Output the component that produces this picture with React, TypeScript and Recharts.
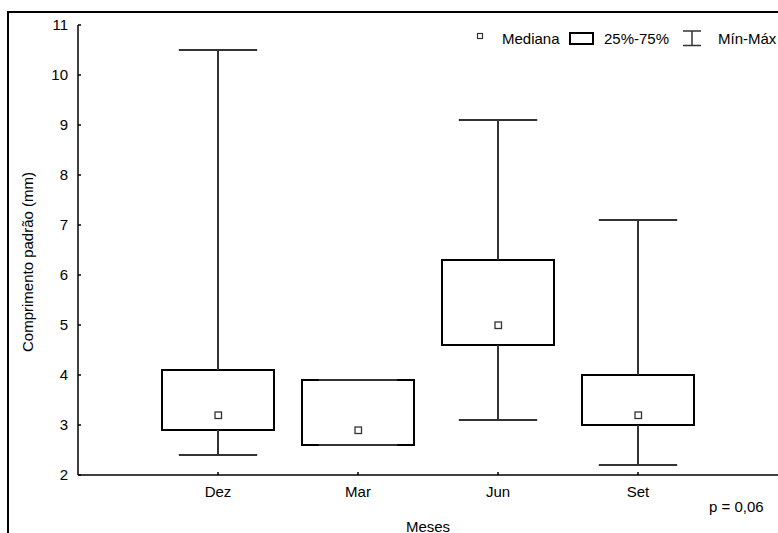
import React from 'react';
import {
  ComposedChart,
  XAxis,
  YAxis,
  Scatter,
  ReferenceArea,
  ReferenceLine,
} from 'recharts';

// Standard length by month: min, quartiles, median, max
const months = ['Dez', 'Mar', 'Jun', 'Set'];
const minValues = [2.4, 2.6, 3.1, 2.2];
const q1Values = [2.9, 2.6, 4.6, 3.0];
const medianValues = [3.2, 2.9, 5.0, 3.2];
const q3Values = [4.1, 3.9, 6.3, 4.0];
const maxValues = [10.5, 3.9, 9.1, 7.1];
const yTicks = [2, 3, 4, 5, 6, 7, 8, 9, 10, 11];

const FONT = '"Liberation Sans", Arial, Helvetica, sans-serif';
const BOX_HALF = 0.4;
const CAP_HALF = 0.28;
const WHISKER = '#333';

const medianPoints = months.map((_, i) => ({ x: i + 1, y: medianValues[i] }));

const MedianMarker = (props: any) => {
  const { cx, cy } = props;
  return <rect x={cx - 3} y={cy - 3} width={6.5} height={6.5} fill="#fff" stroke="#333" strokeWidth={1.3} />;
};

export default function App() {
  const textStyle = { fontFamily: FONT, fontSize: 15, fill: '#000' };

  return (
    // fixed so the page never scrolls
    <div
      style={{
        position: 'fixed',
        left: 0,
        top: 0,
        width: 778,
        height: 533,
        overflow: 'hidden',
        background: '#fff',
      }}
    >
      <div
        style={{
          position: 'absolute',
          left: 7,
          top: 11,
          width: 800,
          height: 560,
          borderTop: '2px solid #000',
          borderLeft: '2px solid #000',
        }}
      />
      <div style={{ position: 'absolute', left: 8, top: 8, width: 770, height: 525 }}>
        <ComposedChart width={770} height={525} margin={{ top: 17, right: 0, bottom: 0, left: 0 }}>
          <XAxis
            type="number"
            dataKey="x"
            domain={[0, 5]}
            ticks={[1, 2, 3, 4]}
            tickFormatter={(v: number) => months[v - 1] ?? ''}
            height={58}
            interval={0}
            tickSize={-3}
            tickMargin={14}
            stroke="#000"
            strokeWidth={1.5}
            tick={{ ...textStyle }}
          />
          <YAxis
            type="number"
            dataKey="y"
            domain={[2, 11]}
            ticks={yTicks}
            interval={0}
            width={70}
            tickSize={-3}
            tickMargin={13}
            stroke="#000"
            strokeWidth={1.5}
            tick={{ ...textStyle }}
          />

          {months.map((m, i) => (
            <ReferenceArea
              key={`box-${m}`}
              x1={i + 1 - BOX_HALF}
              x2={i + 1 + BOX_HALF}
              y1={q1Values[i]}
              y2={q3Values[i]}
              fill="#fff"
              fillOpacity={1}
              stroke="#000"
              strokeWidth={2}
            />
          ))}

          {months.map((m, i) => (
            <ReferenceLine
              key={`upper-${m}`}
              segment={[
                { x: i + 1, y: q3Values[i] },
                { x: i + 1, y: maxValues[i] },
              ]}
              stroke={WHISKER}
              strokeWidth={2}
            />
          ))}
          {months.map((m, i) => (
            <ReferenceLine
              key={`lower-${m}`}
              segment={[
                { x: i + 1, y: minValues[i] },
                { x: i + 1, y: q1Values[i] },
              ]}
              stroke={WHISKER}
              strokeWidth={2}
            />
          ))}
          {months.map((m, i) => (
            <ReferenceLine
              key={`maxcap-${m}`}
              segment={[
                { x: i + 1 - CAP_HALF, y: maxValues[i] },
                { x: i + 1 + CAP_HALF, y: maxValues[i] },
              ]}
              stroke={WHISKER}
              strokeWidth={2}
            />
          ))}
          {months.map((m, i) => (
            <ReferenceLine
              key={`mincap-${m}`}
              segment={[
                { x: i + 1 - CAP_HALF, y: minValues[i] },
                { x: i + 1 + CAP_HALF, y: minValues[i] },
              ]}
              stroke={WHISKER}
              strokeWidth={2}
            />
          ))}

          <Scatter data={medianPoints} shape={MedianMarker} isAnimationActive={false} />
        </ComposedChart>

        {/* axis titles, legend and test note */}
        <svg
          width={770}
          height={525}
          style={{ position: 'absolute', left: 0, top: 0, pointerEvents: 'none' }}
        >
          <text {...textStyle} x={25} y={254} textAnchor="middle" transform="rotate(-90 25 254)">
            Comprimento padrão (mm)
          </text>
          <text {...textStyle} x={420} y={523.5} textAnchor="middle">
            Meses
          </text>
          <text {...textStyle} x={701} y={503.5}>
            p = 0,06
          </text>

          <rect x={469.5} y={25.5} width={5} height={5} fill="#fff" stroke="#333" strokeWidth={1.2} />
          <text {...textStyle} x={494} y={36.3}>Mediana</text>
          <rect x={562} y={25} width={23} height={11} fill="#fff" stroke="#000" strokeWidth={2} />
          <text {...textStyle} x={596} y={36.3}>25%-75%</text>
          <line x1={675} x2={693} y1={23} y2={23} stroke={WHISKER} strokeWidth={1.5} />
          <line x1={684} x2={684} y1={23} y2={37.5} stroke={WHISKER} strokeWidth={1.5} />
          <line x1={675} x2={693} y1={37.5} y2={37.5} stroke={WHISKER} strokeWidth={1.5} />
          <text {...textStyle} x={710} y={36.3}>Mín-Máx</text>
        </svg>
      </div>
    </div>
  );
}
